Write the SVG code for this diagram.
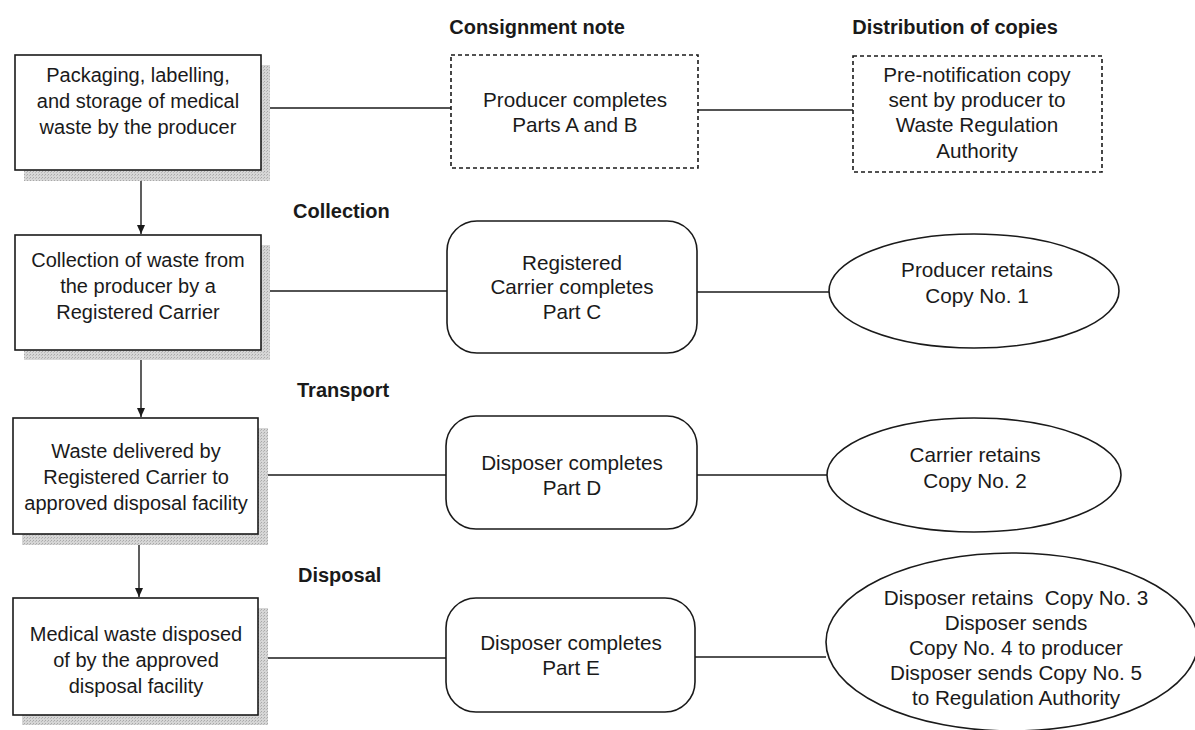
<svg xmlns="http://www.w3.org/2000/svg" width="1195" height="730" viewBox="0 0 1195 730">
<style>
text{font-family:"Liberation Sans",Arial,sans-serif;font-size:20.7px;fill:#1a1a1a;text-anchor:middle}
.s{font-size:20px}
.h{font-weight:bold;font-size:20px}
.hl{font-weight:bold;font-size:20px;text-anchor:start}
.box{fill:#fff;stroke:#1a1a1a;stroke-width:1.6}
.dash{fill:#fff;stroke:#1a1a1a;stroke-width:1.6;stroke-dasharray:4 3}
.sh{fill:url(#dots)}
.ln{stroke:#1a1a1a;stroke-width:1.4;fill:none}
</style>
<defs>
<pattern id="dots" width="3" height="3" patternUnits="userSpaceOnUse">
<rect width="3" height="3" fill="#d6d6d6"/>
<rect width="1" height="1" fill="#a8a8a8"/>
<rect x="2" y="1" width="1" height="1" fill="#b8b8b8"/>
</pattern>
<marker id="ah" markerWidth="10" markerHeight="10" refX="9" refY="5" orient="auto" markerUnits="userSpaceOnUse">
<path d="M0,1 L9,5 L0,9 Z" fill="#1a1a1a"/>
</marker>
</defs>
<rect width="1195" height="730" fill="#fff"/>

<g id="headers">
<text class="h" x="537" y="34">Consignment note</text>
<text class="h" x="955" y="34">Distribution of copies</text>
<text class="hl" x="293" y="218">Collection</text>
<text class="hl" x="297" y="397">Transport</text>
<text class="hl" x="298" y="582">Disposal</text>
</g>

<g id="connectors">
<line class="ln" x1="141" y1="181" x2="141" y2="234" marker-end="url(#ah)"/>
<line class="ln" x1="141" y1="360" x2="141" y2="417" marker-end="url(#ah)"/>
<line class="ln" x1="139" y1="545" x2="139" y2="597" marker-end="url(#ah)"/>
<line class="ln" x1="270" y1="108" x2="451" y2="108"/>
<line class="ln" x1="698" y1="110" x2="853" y2="110"/>
<line class="ln" x1="270" y1="291" x2="447" y2="291"/>
<line class="ln" x1="697" y1="292" x2="829" y2="292"/>
<line class="ln" x1="268" y1="475" x2="446" y2="475"/>
<line class="ln" x1="697" y1="475" x2="827" y2="475"/>
<line class="ln" x1="268" y1="658" x2="446" y2="658"/>
<line class="ln" x1="695" y1="657" x2="826" y2="657"/>
</g>

<g id="n1">
<rect class="sh" x="24" y="65" width="246" height="116"/>
<rect class="box" x="15" y="55" width="246" height="115"/>
<text class="s" x="138" y="82">Packaging, labelling,</text>
<text class="s" x="138" y="108">and storage of medical</text>
<text class="s" x="138" y="134">waste by the producer</text>
</g>

<g id="n2">
<rect class="sh" x="24" y="245" width="246" height="115"/>
<rect class="box" x="15" y="235" width="246" height="115"/>
<text class="s" x="138" y="267">Collection of waste from</text>
<text class="s" x="138" y="293">the producer by a</text>
<text class="s" x="138" y="319">Registered Carrier</text>
</g>

<g id="n3">
<rect class="sh" x="22" y="428" width="246" height="117"/>
<rect class="box" x="13" y="418" width="245" height="116"/>
<text class="s" x="136" y="458">Waste delivered by</text>
<text class="s" x="136" y="484">Registered Carrier to</text>
<text class="s" x="136" y="510">approved disposal facility</text>
</g>

<g id="n4">
<rect class="sh" x="22" y="608" width="246" height="117"/>
<rect class="box" x="13" y="598" width="245" height="117"/>
<text class="s" x="136" y="641">Medical waste disposed</text>
<text class="s" x="136" y="667">of by the approved</text>
<text class="s" x="136" y="693">disposal facility</text>
</g>

<g id="c1">
<rect class="dash" x="451" y="55" width="247" height="113"/>
<text x="575" y="107">Producer completes</text>
<text x="575" y="132">Parts A and B</text>
</g>

<g id="c2">
<rect class="box" x="447" y="221" width="250" height="132" rx="30" ry="30"/>
<text x="572" y="270">Registered</text>
<text x="572" y="294">Carrier completes</text>
<text x="572" y="319">Part C</text>
</g>

<g id="c3">
<rect class="box" x="446" y="416" width="251" height="113" rx="30" ry="30"/>
<text x="572" y="470">Disposer completes</text>
<text x="572" y="495">Part D</text>
</g>

<g id="c4">
<rect class="box" x="446" y="598" width="249" height="114" rx="30" ry="30"/>
<text x="571" y="650">Disposer completes</text>
<text x="571" y="675">Part E</text>
</g>

<g id="d1">
<rect class="dash" x="853" y="56" width="249" height="116"/>
<text x="977" y="82">Pre-notification copy</text>
<text x="977" y="107">sent by producer to</text>
<text x="977" y="132">Waste Regulation</text>
<text x="977" y="158">Authority</text>
</g>

<g id="d2">
<ellipse class="box" cx="974" cy="291" rx="145" ry="57"/>
<text x="977" y="277">Producer retains</text>
<text x="977" y="303">Copy No. 1</text>
</g>

<g id="d3">
<ellipse class="box" cx="974" cy="475" rx="147" ry="57"/>
<text x="975" y="462">Carrier retains</text>
<text x="975" y="488">Copy No. 2</text>
</g>

<g id="d4">
<ellipse class="box" cx="1012" cy="642" rx="186" ry="89"/>
<text x="1016" y="605" xml:space="preserve">Disposer retains  Copy No. 3</text>
<text x="1016" y="630">Disposer sends</text>
<text x="1016" y="655">Copy No. 4 to producer</text>
<text x="1016" y="680">Disposer sends Copy No. 5</text>
<text x="1016" y="705">to Regulation Authority</text>
</g>
</svg>
